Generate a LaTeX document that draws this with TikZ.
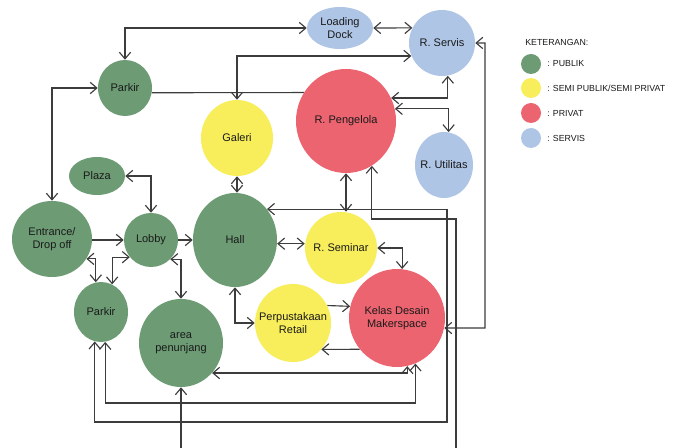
\documentclass[tikz,border=0pt]{standalone}
\usepackage{fontspec}
\setmainfont{Liberation Sans}
\usetikzlibrary{shapes.geometric,arrows.meta,backgrounds}
\definecolor{pub}{HTML}{6C9B74}
\definecolor{semi}{HTML}{F8EE5B}
\definecolor{priv}{HTML}{EC6470}
\definecolor{serv}{HTML}{AFC5E6}
\definecolor{linec}{HTML}{3C3C3C}
\definecolor{txt}{HTML}{1A1A1A}
\begin{document}
\begin{tikzpicture}[x=0.75pt,y=-0.75pt,
  bub/.style={ellipse, inner sep=0pt, draw=none},
  sz/.style 2 args={minimum width=#1*1.5pt, minimum height=#2*1.5pt},
  lbl/.style={font=\fontsize{8.25}{10}\selectfont, align=center, text=txt, inner sep=0pt},
  legt/.style={font=\fontsize{6.6}{8}\selectfont, text=txt, inner sep=0pt, anchor=west},
  conn/.style={draw=linec, line width=0.85pt},
  both/.style={conn, {Straight Barb[length=5pt,width=8.5pt]}-{Straight Barb[length=5pt,width=8.5pt]}},
  fwd/.style={conn, -{Straight Barb[length=5pt,width=8.5pt]}},
  bwd/.style={conn, {Straight Barb[length=5pt,width=8.5pt]}-}]
\useasboundingbox (0,0) rectangle (684,448);

% nodes
\node[bub, fill=pub, sz={27}{28}, label={[lbl]center:Parkir}] (parkirA) at (125,88) {};
\node[bub, fill=serv, sz={33}{21}, label={[lbl]center:{Loading\\Dock}}] (dock) at (340,28) {};
\node[bub, fill=serv, sz={33}{33}, label={[lbl]center:R. Servis}] (servis) at (442,43) {};
\node[bub, fill=semi, sz={36}{38}, label={[lbl]center:Galeri}] (galeri) at (237,138) {};
\node[bub, fill=priv, sz={50}{52}, label={[lbl]center:R. Pengelola}] (pengelola) at (346,121) {};
\node[bub, fill=serv, sz={29}{33}, label={[lbl]center:R. Utilitas}] (utilitas) at (444,165) {};
\node[bub, fill=pub, sz={28}{19}, label={[lbl]center:Plaza}] (plaza) at (97,176) {};
\node[bub, fill=pub, sz={40}{38}, label={[lbl]center:{Entrance/\\Drop off}}] (entrance) at (52,239) {};
\node[bub, fill=pub, sz={27}{27}, label={[lbl]center:Lobby}] (lobby) at (151,240) {};
\node[bub, fill=pub, sz={42}{47}, label={[lbl]center:Hall}] (hall) at (235,240) {};
\node[bub, fill=semi, sz={36}{36}, label={[lbl]center:R. Seminar}] (seminar) at (341,248) {};
\node[bub, fill=pub, sz={27}{30}, label={[lbl]center:Parkir}] (parkirB) at (101,312) {};
\node[bub, fill=pub, sz={42}{44}, label={[lbl]center:{area\\penunjang}}] (area) at (181,343) {};
\node[bub, fill=semi, sz={38}{39}, label={[lbl]center:{Perpustakaan\\Retail}}] (perpus) at (293,323) {};
\node[bub, fill=priv, sz={48}{49}, label={[lbl]center:{Kelas Desain\\Makerspace}}] (kelas) at (397,318) {};

% bend / free-end coordinates
\coordinate (c1) at (447,422);
\coordinate (c2) at (485,328);
\coordinate (c3) at (456,219);
\coordinate (e1) at (456,448);
\coordinate (c4) at (260,403);

\begin{scope}[on background layer]
\fill[white] (0,0) rectangle (684,448);
\draw[both] (parkirA.north) |- (dock.west);
\draw[both] (dock.east) -- (servis.153);
\draw[both] (galeri.north) |- (servis.203);
\draw[conn] (parkirA.-10) -- (pengelola.146);
\draw[both] (pengelola.27) -| (servis.-80);
\draw[both] (pengelola.14) -| (utilitas.82);
\draw[both] (galeri.south) -- (galeri.south |- hall.north);
\draw[both] (plaza.east) -| (lobby.north);
\draw[both] (parkirA.west) -| (entrance.north);
\draw[fwd] (entrance.east |- lobby.west) -- (lobby.west);
\draw[fwd] (lobby.east) -- (lobby.east -| hall.west);
\draw[both] (entrance.-30) -| (parkirB.100);
\draw[both] (lobby.219) -| (parkirB.68);
\draw[both] (lobby.-45) -| (area.north);
\draw[both] (hall.-5) -- (hall.-5 -| seminar.west);
\draw[both] (pengelola.south) -- (pengelola.south |- seminar.north);
\draw[both] (seminar.east) -| (kelas.84);
\draw[both] (hall.south) |- (perpus.west);
\draw[fwd] (perpus.27) -- (kelas.166);
\draw[fwd] (kelas.220) -- (perpus.-43);
\draw[both] (hall.44) -| (c1) -| (parkirB.-102);
\draw[both] (servis.east) -| (c2) -- (kelas.-12);
\draw[bwd] (pengelola.-60) |- (c3) -- (e1);
\draw[bwd] (area.south) -- (area.south |- e1);
\draw[both] (area.-44) -| (kelas.-78);
\draw[both] (parkirB.-82) |- (c4) -| (kelas.-68);
\end{scope}

% legend
\node[legt] (legtitle) at (525,42) {KETERANGAN:};
\node[bub, fill=pub, sz={10}{10}] (lg1) at (531,64) {};
\node[bub, fill=semi, sz={10}{10}] (lg2) at (531,88) {};
\node[bub, fill=priv, sz={10}{10}] (lg3) at (531,113) {};
\node[bub, fill=serv, sz={10}{10}] (lg4) at (531,138) {};
\node[legt] (lt1) at (547,64) {: PUBLIK};
\node[legt] (lt2) at (547,88) {: SEMI PUBLIK/SEMI PRIVAT};
\node[legt] (lt3) at (547,113) {: PRIVAT};
\node[legt] (lt4) at (547,138) {: SERVIS};
\end{tikzpicture}
\end{document}
